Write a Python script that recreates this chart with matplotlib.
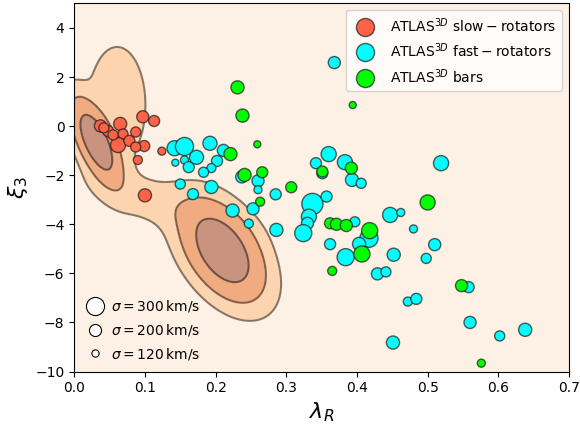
import numpy as np
import matplotlib
matplotlib.use('Agg')
import matplotlib.pyplot as plt
from matplotlib.lines import Line2D

# slow rotators: lambda_R, xi_3, sigma (km/s)
slow_lam = [0.037, 0.048, 0.042, 0.065, 0.069, 0.062, 0.078, 0.087, 0.097, 0.113,
            0.099, 0.087, 0.090, 0.124, 0.100, 0.055]
slow_xi = [0.01, -0.20, -0.07, 0.09, -0.32, -0.77, -0.60, -0.24, 0.38, 0.21,
           -0.81, -0.85, -1.38, -1.02, -2.82, -0.36]
slow_sig = [200, 183, 167, 217, 167, 250, 183, 167, 200, 183,
            183, 167, 150, 133, 217, 167]

# fast rotators
fast_lam = [0.142, 0.156, 0.143, 0.156, 0.162, 0.173, 0.192, 0.211, 0.202, 0.194,
            0.183, 0.150, 0.194, 0.168, 0.224, 0.260, 0.260, 0.253, 0.247, 0.285,
            0.286, 0.237, 0.337, 0.332, 0.342, 0.360, 0.351, 0.383, 0.393, 0.406,
            0.357, 0.330, 0.324, 0.397, 0.417, 0.403, 0.384, 0.362, 0.447, 0.462,
            0.480, 0.452, 0.429, 0.441, 0.519, 0.510, 0.498, 0.558, 0.472, 0.484,
            0.560, 0.602, 0.638, 0.451, 0.368]
fast_xi = [-0.90, -0.83, -1.49, -1.38, -1.67, -1.27, -0.70, -0.99, -1.42, -1.71,
           -1.88, -2.36, -2.48, -2.77, -3.44, -2.23, -2.59, -3.37, -3.97, -2.78,
           -4.23, -2.07, -3.17, -3.69, -1.51, -1.14, -1.92, -1.47, -2.19, -2.33,
           -2.87, -3.96, -4.36, -3.90, -4.57, -4.80, -5.34, -4.81, -3.62, -3.52,
           -4.19, -5.24, -6.02, -5.94, -1.51, -4.83, -5.39, -6.56, -7.15, -7.04,
           -8.00, -8.55, -8.30, -8.82, 2.59]
fast_sig = [250, 300, 117, 133, 183, 233, 233, 200, 183, 150,
            167, 167, 217, 183, 217, 200, 133, 200, 150, 183,
            217, 200, 350, 250, 183, 250, 183, 250, 217, 167,
            183, 200, 283, 167, 300, 217, 283, 183, 250, 133,
            133, 217, 200, 167, 250, 200, 167, 183, 150, 183,
            200, 167, 217, 217, 200]

# bars
bar_lam = [0.231, 0.238, 0.394, 0.221, 0.259, 0.241, 0.266, 0.307, 0.263, 0.351,
           0.392, 0.362, 0.371, 0.385, 0.418, 0.407, 0.365, 0.500, 0.548, 0.576]
bar_xi = [1.58, 0.43, 0.86, -1.14, -0.74, -1.99, -1.88, -2.49, -3.08, -1.85,
          -1.71, -3.96, -4.00, -4.05, -4.26, -5.21, -5.90, -3.11, -6.50, -9.66]
bar_sig = [217, 217, 117, 217, 117, 217, 183, 183, 150, 183,
           200, 183, 200, 200, 267, 267, 150, 250, 200, 133]

# density blobs for the background contours: centre, widths, correlation, peak
blob_mx = [0.031, 0.210, 0.128, 0.0606]
blob_my = [-0.65, -5.10, -3.21, 0.86]
blob_sx = [0.0182, 0.0306, 0.0677, 0.031]
blob_sy = [0.90, 1.05, 0.80, 1.83]
blob_rho = [-0.655, -0.466, -0.673, 0.0]
blob_peak = [1.0, 1.0, 0.06, 0.06]
levels = [0.026, 0.135, 0.487]

legend_sig = [300, 200, 120]


def size(s):
    return (np.asarray(s) / 23.0) ** 2


xx, yy = np.meshgrid(np.linspace(0, 0.7, 400), np.linspace(-10, 5, 400))
zz = np.zeros_like(xx)
for mx, my, sx, sy, r, pk in zip(blob_mx, blob_my, blob_sx, blob_sy, blob_rho, blob_peak):
    dx = (xx - mx) / sx
    dy = (yy - my) / sy
    zz += pk * np.exp(-0.5 * (dx * dx - 2 * r * dx * dy + dy * dy) / (1 - r * r))

fig = plt.figure(figsize=(5.8, 4.29), dpi=100)
ax = fig.add_axes([0.128, 0.134, 0.853, 0.858])
ax.set_facecolor('#fdf0e4')

ax.contourf(xx, yy, zz, levels=levels + [zz.max() + 1],
            colors=['#fcd5b0', '#f1ab80', '#c9937f'])
ax.contour(xx, yy, zz, levels=levels, colors='k', alpha=0.45, linewidths=1.5)

ek = dict(edgecolors=(0.1, 0.1, 0.1, 0.7), linewidths=1.0, zorder=3)
ax.scatter(slow_lam, slow_xi, s=size(slow_sig), c='tomato', **ek)
ax.scatter(fast_lam, fast_xi, s=size(fast_sig), c='cyan', **ek)
ax.scatter(bar_lam, bar_xi, s=size(bar_sig), c='lime', **ek)

ax.set_xlim(0, 0.7)
ax.set_ylim(-10, 5)
ax.set_xlabel(r'$\lambda_R$', fontsize=16)
ax.set_ylabel(r'$\xi_3$', fontsize=16)

h1 = [Line2D([], [], ls='', marker='o', ms=13, mfc=c, mec=(0.1, 0.1, 0.1, 0.7))
      for c in ['tomato', 'cyan', 'lime']]
lab1 = [r'ATLAS$^{3D}$ $\mathrm{slow-rotators}$',
        r'ATLAS$^{3D}$ $\mathrm{fast-rotators}$',
        r'ATLAS$^{3D}$ bars']
leg1 = ax.legend(h1, lab1, loc='upper right', fontsize=10)
ax.add_artist(leg1)

h2 = [Line2D([], [], ls='', marker='o', ms=np.sqrt(size(s)), mfc='white', mec='k', mew=0.8)
      for s in legend_sig]
lab2 = [r'$\sigma=%d\,\mathrm{km/s}$' % s for s in legend_sig]
ax.legend(h2, lab2, loc='lower left', frameon=False, fontsize=10,
          handlelength=1.6, handletextpad=0.35, labelspacing=0.57,
          borderaxespad=0.3)

fig.savefig('out.png', dpi=100)
